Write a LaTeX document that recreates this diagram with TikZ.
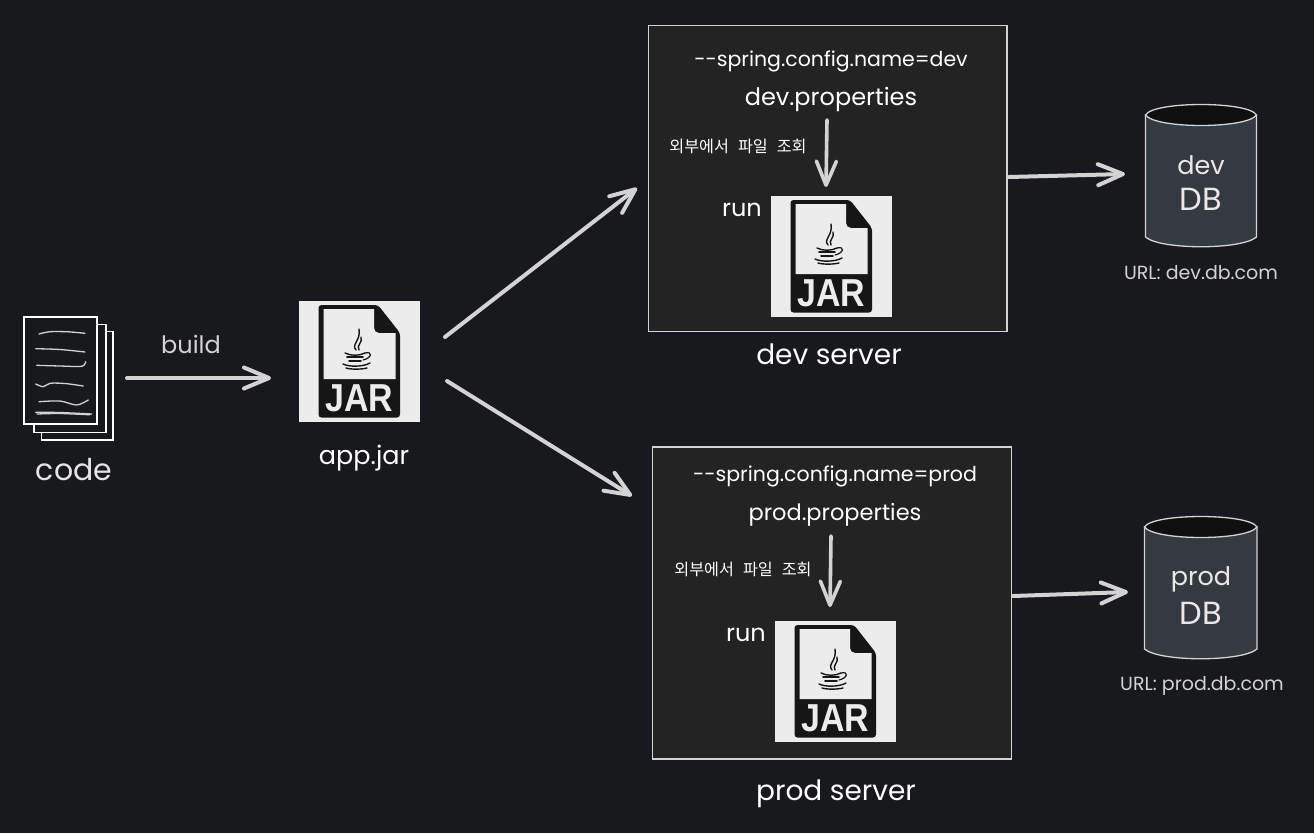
\documentclass[tikz,border=0pt]{standalone}
\usepackage{fontspec}
\setmainfont{Poppins}
\newfontfamily\cjkfont{Noto Sans CJK KR}
\newfontfamily\jarfont{Liberation Sans}[BoldFont={Liberation Sans Bold}]
\usetikzlibrary{arrows.meta}
\definecolor{bgc}{HTML}{18191C}
\definecolor{panelc}{HTML}{232323}
\definecolor{dbc}{HTML}{343A40}
\definecolor{dbtop}{HTML}{0F0F10}
\definecolor{linec}{HTML}{D3D3D3}
\definecolor{jarlight}{HTML}{ECECEC}
\definecolor{jardark}{HTML}{161616}
\tikzset{
  flow/.style={draw=linec,line width=4pt,line cap=round,line join=round,
    -{Straight Barb[length=25pt,width=21pt,line width=4pt,round]}},
  flowsmall/.style={draw=linec,line width=3.6pt,line cap=round,line join=round,
    -{Straight Barb[length=24pt,width=20pt,line width=3.6pt,round]}},
  panel/.style={draw=linec,line width=1.2pt,fill=panelc},
  sheet/.style={draw=white,line width=1.6pt,fill=bgc},
  scribble/.style={draw=linec,line width=1.3pt,line cap=round},
  hand/.style={text=white,inner sep=0pt,font=\fontsize{24}{24}\selectfont},
  handflag/.style={text=white,inner sep=0pt,font=\fontsize{20.5}{20.5}\selectfont},
  handsmall/.style={text=linec,inner sep=0pt,font=\fontsize{19}{19}\selectfont},
  handdb/.style={text=linec!50!white,inner sep=0pt,font=\fontsize{25.5}{25.5}\selectfont},
  korean/.style={text=white,inner sep=0pt,font=\cjkfont\fontsize{16.2}{16.2}\selectfont},
  jarbox/.style={fill=jarlight,minimum width=121pt,minimum height=121pt,inner sep=0pt},
  dbbody/.style={draw=linec,line width=1.3pt,fill=dbc},
  dblid/.style={draw=linec,line width=1.3pt,fill=dbtop},
}
\newcommand{\jaricon}[3]{%
  \node[jarbox] (#1) at (#2+60.5,#3+60.5) {};
  \begin{scope}[shift={(#2,#3)}]
    \fill[jardark,rounded corners=3pt] (19.5,4) -- (79,4) -- (101,32) -- (101,116.5) -- (19.5,116.5) -- cycle;
    \fill[jarlight] (24.5,8) -- (75,8) -- (75,27) to[out=-90,in=180] (80,32) -- (96.5,32) -- (96.5,78) -- (24.5,78) -- cycle;
    \begin{scope}[draw=jardark,line cap=round]
      \draw[line width=1.4pt] (57,49) .. controls (52,43) and (62,40) .. (60,28);
      \draw[line width=1.4pt] (60,49) .. controls (57,44) and (64,42) .. (62,36);
      \draw[line width=1.4pt] (46,52) .. controls (52,55) and (60,55) .. (66,52);
      \draw[line width=1.2pt] (66,52) .. controls (74,50) and (73,57) .. (64,59);
      \draw[line width=1.8pt] (48,56) -- (64,56);
      \draw[line width=1.8pt] (50,60) -- (62,60);
      \draw[line width=1.4pt] (44,63) .. controls (50,66) and (64,66) .. (71,62);
      \draw[line width=1.4pt] (47,67) .. controls (52,68.5) and (62,68.5) .. (68,67);
    \end{scope}
    \node[text=jarlight,inner sep=0pt,font=\jarfont\bfseries\fontsize{39}{39}\selectfont,xscale=.87] at (60.5,97) {JAR};
  \end{scope}}
\newcommand{\dbcyl}[7]{% name, left, right, top, lidbottom, sidebottom, bottom
  \path[dbbody] (#2,#4+11) -- (#2,#6) .. controls (#2+15,#7+1) and (#3-15,#7+1) .. (#3,#6) -- (#3,#4+11) -- cycle;
  \node[inner sep=0pt,minimum width=#3pt-#2pt,minimum height=#7pt-#4pt] (#1) at ({(#2+#3)/2},{(#4+#7)/2}) {};
  \path[dblid] (#2,#4+11) .. controls (#2+8,#4-3) and (#3-8,#4-3) .. (#3,#4+11) .. controls (#3-10,#5+3) and (#2+10,#5+3) .. (#2,#4+11) -- cycle;
}
\begin{document}
\begin{tikzpicture}[x=1pt,y=-1pt]
\useasboundingbox[fill=bgc] (0,0) rectangle (1314,833);

% code sheets
\node[sheet,minimum width=71.5pt,minimum height=108.5pt,inner sep=0pt] (sheetc) at (77.3,385.8) {};
\node[sheet,minimum width=72pt,minimum height=108pt,inner sep=0pt] (sheetb) at (70.2,378.3) {};
\node[sheet,minimum width=72.5pt,minimum height=107.5pt,inner sep=0pt] (sheeta) at (60.5,370.5) {};
\draw[scribble] plot[smooth] coordinates {(39,334) (50,331.7) (68,331.8) (85,333.3)};
\draw[scribble] plot[smooth] coordinates {(35.7,348.7) (60,349.5) (85,352)};
\draw[scribble] plot[smooth] coordinates {(36.7,365.3) (60,366) (81.7,366.3) (85.7,361.7)};
\draw[scribble] plot[smooth] coordinates {(35.7,384) (43.3,386.7) (50,383.3) (65,383.5) (83.3,386)};
\draw[scribble] plot[smooth] coordinates {(39,401.7) (60,401) (76.7,405) (88.3,400)};
\draw[scribble] plot[smooth] coordinates {(35.7,412.3) (60,412.5) (91.7,414)};
\draw[scribble] plot[smooth] coordinates {(37,414) (60,413.5) (90,414.8)};
\node[hand,font=\fontsize{30}{30}\selectfont,text=linec!60!white] (codelabel) at (74,470) {code};

% build
\coordinate (buildstart) at (127,378);
\coordinate (buildend) at (271,378);
\draw[flow] (buildstart) -- (buildend);
\node[hand,text=linec] (buildlabel) at (191,344) {build};

% app jar
\jaricon{appjar}{299}{301}
\node[hand,font=\fontsize{25.5}{25.5}\selectfont] (appjarlabel) at (364,458) {app.jar};

% to servers
\coordinate (a1) at (445,337);
\coordinate (a2) at (637,188);
\coordinate (b1) at (447,381);
\coordinate (b2) at (632,496);
\draw[flow] (a1) -- (a2);
\draw[flow] (b1) -- (b2);

% dev server
\node[panel,minimum width=358.5pt,minimum height=306pt,inner sep=0pt] (devserver) at (827.8,178.7) {};
\node[handflag] (devflag) at (831,61) {-{}-spring.config.name=dev};
\node[hand] (devprops) at (831,99) {dev.properties};
\coordinate (c1) at (827,120);
\coordinate (c2) at (826,187);
\draw[flowsmall] (c1) -- (c2);
\node[korean] (devnote) at (738,146) {\spaceskip=9pt 외부에서 파일 조회};
\node[hand] (devrun) at (742,210) {run};
\jaricon{devjar}{771}{196}
\node[hand,font=\fontsize{28}{28}\selectfont] (devlabel) at (829,354) {dev server};

% prod server
\node[panel,minimum width=358.5pt,minimum height=312pt,inner sep=0pt] (prodserver) at (832,603) {};
\node[handflag] (prodflag) at (835,476) {-{}-spring.config.name=prod};
\node[hand,font=\fontsize{22.5}{22.5}\selectfont] (prodprops) at (835,515) {prod.properties};
\coordinate (d1) at (831,536);
\coordinate (d2) at (830,607);
\draw[flowsmall] (d1) -- (d2);
\node[korean] (prodnote) at (743,569) {\spaceskip=9pt 외부에서 파일 조회};
\node[hand] (prodrun) at (746,635) {run};
\jaricon{prodjar}{775}{621}
\node[hand,font=\fontsize{28}{28}\selectfont] (prodlabel) at (836,794) {prod server};

% databases
\dbcyl{devdb}{1145.5}{1256.5}{104}{126}{237}{249}
\node[handdb] (devdbt) at (1201,165) {dev};
\node[handdb,font=\fontsize{32}{32}\selectfont] (devdbb) at (1201,199) {DB};
\node[handsmall] (devurl) at (1201,273) {URL: dev.db.com};
\dbcyl{proddb}{1144.5}{1257}{516}{538}{649}{661}
\node[handdb] (proddbt) at (1201,579) {prod};
\node[handdb,font=\fontsize{32}{32}\selectfont] (proddbb) at (1201,613) {DB};
\node[handsmall] (produrl) at (1202,686) {URL: prod.db.com};

\coordinate (e1) at (1009,177);
\coordinate (e2) at (1125,174);
\coordinate (f1) at (1013,596);
\coordinate (f2) at (1128,592);
\draw[flow] (e1) -- (e2);
\draw[flow] (f1) -- (f2);
\end{tikzpicture}
\end{document}
